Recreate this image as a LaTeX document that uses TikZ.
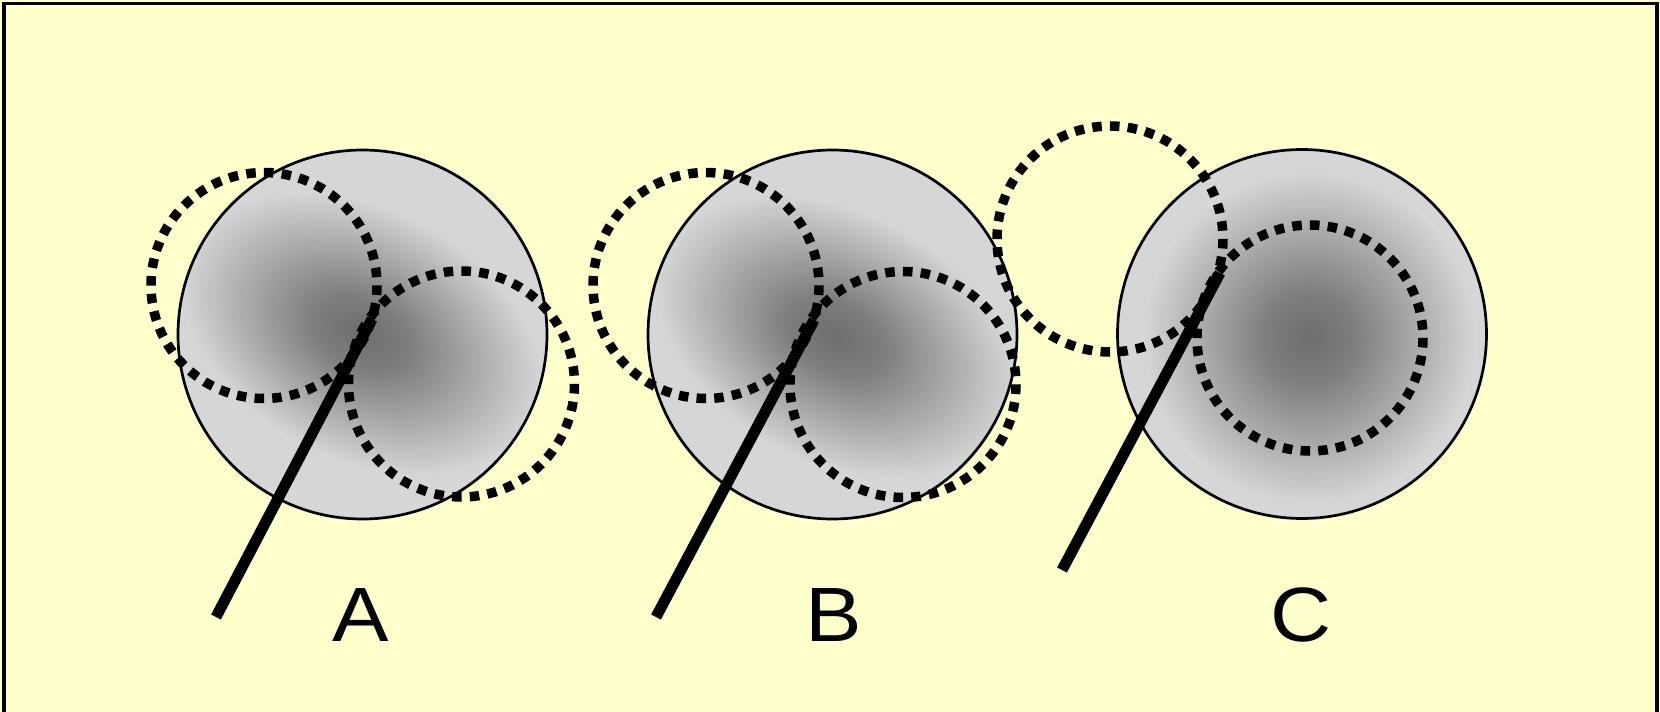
\documentclass[tikz,border=0pt]{standalone}
\usepackage{fontspec}
\setmainfont{Liberation Sans}
\newfontfamily\literafont[FakeStretch=1.1]{Liberation Sans}
\definecolor{tlo}{HTML}{FFFFCC}
\definecolor{szary}{HTML}{D6D6D6}
\tikzset{
  kula/.style    = {fill=szary},
  obrys/.style   = {draw=black, line width=2.7pt},
  okrag/.style   = {draw=black, line width=9.5pt, dash pattern=on 9.5pt off 8.25pt},
  pret/.style    = {draw=black, line width=11pt},
  litera/.style  = {font=\literafont\fontsize{77}{80}\selectfont, anchor=base, inner sep=0pt},
  ramka/.style   = {draw=black, line width=3.5pt},
}

\begin{document}
\begin{tikzpicture}[x=1pt, y=-1pt]
  \useasboundingbox (0,0) rectangle (1660,712);
  \fill[tlo] (0,0) rectangle (1660,712);

  \coordinate (kA) at (362.5,334.5);
  \coordinate (kB) at (832.5,334.5);
  \coordinate (kC) at (1302,334);

  \foreach \k/\sx/\sy/\kat/\ra/\rb in {kA/362/334/-27/190/125,
                                      kB/836/337/-27/190/125,
                                      kC/1310/338/0/165/165}{
    \fill[kula] (\k) circle (184.5);
    \begin{scope}
      \clip (\k) circle (184.5);
      \foreach \n in {1,...,60}
        \fill[black, fill opacity=0.0086, rotate around={\kat:(\sx,\sy)}]
          (\sx,\sy) ellipse ({\ra*\n/60} and {\rb*\n/60});
    \end{scope}
    \draw[obrys] (\k) circle (184.5);
  }

  \coordinate (oA1) at (264,285.5);
  \coordinate (oA2) at (461.5,384);
  \coordinate (oB1) at (706,285.5);
  \coordinate (oB2) at (903,384.5);
  \coordinate (oC1) at (1110,239);
  \coordinate (oC2) at (1310,338);
  \foreach \o in {oA1,oA2,oB1,oB2,oC1,oC2}
    \draw[okrag] (\o) circle (113);

  \coordinate (pA1) at (216,617);
  \coordinate (pA2) at (372,319);
  \coordinate (pB1) at (656,617);
  \coordinate (pB2) at (814,320);
  \coordinate (pC1) at (1062,570);
  \coordinate (pC2) at (1220,273);
  \draw[pret] (pA1) -- (pA2);
  \draw[pret] (pB1) -- (pB2);
  \draw[pret] (pC1) -- (pC2);

  \node[litera] (lA) at (360.5,641.7) {A};
  \node[litera] (lB) at (834,641.7) {B};
  \node[litera] (lC) at (1301.5,641.7) {C};

  \draw[ramka] (4,730) -- (4,3.5) -- (1657,3.5) -- (1657,730);
\end{tikzpicture}
\end{document}
